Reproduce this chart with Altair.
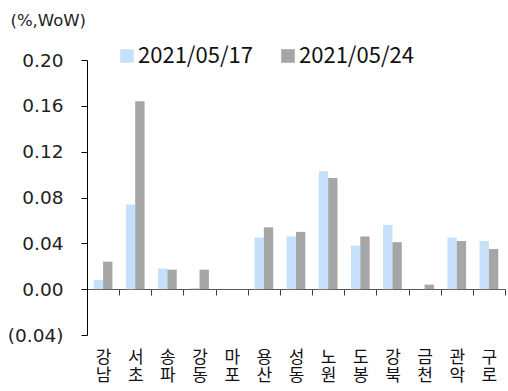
import altair as alt
import pandas as pd

# Weekly apartment price change by Seoul district (%, WoW)
districts = ["강남", "서초", "송파", "강동", "마포", "용산", "성동",
             "노원", "도봉", "강북", "금천", "관악", "구로"]
series = ["2021/05/17", "2021/05/24"]
wk_0517 = [0.008, 0.074, 0.018, 0.001, 0.000, 0.045, 0.046,
           0.103, 0.038, 0.056, 0.000, 0.045, 0.042]
wk_0524 = [0.024, 0.164, 0.017, 0.017, 0.000, 0.054, 0.050,
           0.097, 0.046, 0.041, 0.004, 0.042, 0.035]
colors = ["#C5E0FA", "#A6A6A6"]
y_ticks = [-0.04, 0.0, 0.04, 0.08, 0.12, 0.16, 0.20]

rows = []
for d, a, b in zip(districts, wk_0517, wk_0524):
    rows.append({"district": d, "series": series[0], "value": a})
    rows.append({"district": d, "series": series[1], "value": b})
df = pd.DataFrame(rows)

KR_FONT = "Noto Sans CJK KR"
NUM_FONT = "DejaVu Sans"

chart = alt.Chart(df).mark_bar().encode(
    x=alt.X(
        "district:N",
        sort=districts,
        scale=alt.Scale(paddingInner=0, paddingOuter=0),
        axis=alt.Axis(
            title=None,
            labelAngle=0,
            labelExpr="split(datum.label, '')",
            labelBaseline="top",
            labelFont=KR_FONT,
            labelFontSize=17,
            labelLineHeight=18,
            labelColor="#111111",
            labelPadding=54,
            tickBand="extent",
            tickSize=6,
            tickColor="#404040",
            domainColor="#595959",
            offset=-46,
        ),
    ),
    xOffset=alt.XOffset(
        "series:N",
        sort=series,
        scale=alt.Scale(paddingInner=0, paddingOuter=0.72),
    ),
    y=alt.Y(
        "value:Q",
        scale=alt.Scale(domain=[-0.04, 0.20], nice=False, zero=False),
        axis=alt.Axis(
            values=y_ticks,
            grid=False,
            labelExpr="datum.value < 0 ? '(' + format(-datum.value, '.2f') + ')' : format(datum.value, '.2f')",
            labelFont=NUM_FONT,
            labelFontSize=18.5,
            labelColor="#222222",
            labelPadding=18,
            tickSize=6,
            tickColor="#000000",
            domainColor="#000000",
            title="(%,WoW)",
            titleFont=NUM_FONT,
            titleAngle=0,
            titleAlign="left",
            titleBaseline="middle",
            titleX=-77,
            titleY=-40,
            titleFontSize=16.5,
            titleFontWeight="normal",
            titleColor="#222222",
        ),
    ),
    color=alt.Color(
        "series:N",
        scale=alt.Scale(domain=series, range=colors),
        legend=alt.Legend(
            title=None,
            orient="none",
            direction="horizontal",
            legendX=29,
            legendY=-15,
            symbolType="square",
            symbolSize=185,
            symbolStrokeWidth=0,
            labelFont=KR_FONT,
            labelFontSize=22,
            labelColor="#111111",
            labelOffset=0,
            columnPadding=24,
        ),
    ),
).properties(
    width=418,
    height=275,
    autosize=alt.AutoSizeParams(type="none"),
    padding={"left": 87, "top": 60, "right": 3, "bottom": 56},
    background="white",
).configure(
    font=KR_FONT,
).configure_view(
    stroke=None,
)

chart.save("out.html", embed_options={"renderer": "svg", "actions": False})
